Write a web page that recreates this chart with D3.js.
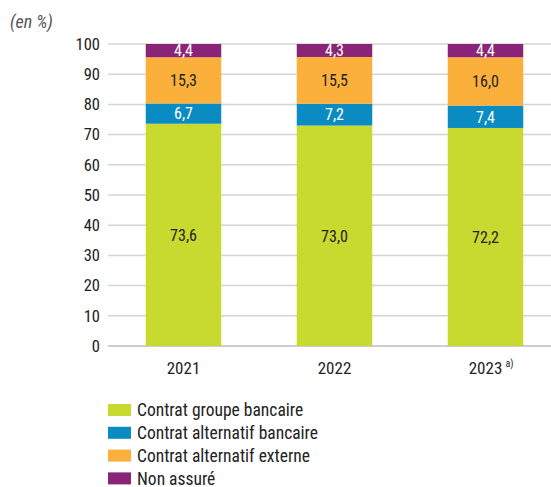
<!DOCTYPE html>
<html>
<head>
<meta charset="utf-8">
<script src="https://cdn.jsdelivr.net/npm/d3@7"></script>
<style>
  body { margin: 0; background: #fff; }
  svg text { font-family: "Liberation Sans Narrow", "Roboto Condensed", Roboto, sans-serif; }
</style>
</head>
<body>
<svg id="chart" width="551" height="487"></svg>
<script>
const years = ["2021", "2022", "2023"];
const yearNotes = ["", "", "a)"];
const seriesNames = ["Contrat groupe bancaire", "Contrat alternatif bancaire", "Contrat alternatif externe", "Non assuré"];
const groupeBancaire = [73.6, 73.0, 72.2];
const alternatifBancaire = [6.7, 7.2, 7.4];
const alternatifExterne = [15.3, 15.5, 16.0];
const nonAssure = [4.4, 4.3, 4.4];
const yTicks = [0, 10, 20, 30, 40, 50, 60, 70, 80, 90, 100];
const colors = ["#c8d930", "#0a8bc1", "#fbb03b", "#8a2476"];
const labelColors = ["#222", "#fff", "#222", "#fff"];

const seriesValues = [groupeBancaire, alternatifBancaire, alternatifExterne, nonAssure];
const rows = years.map((y, i) => {
  const r = { year: y };
  seriesNames.forEach((s, k) => r[s] = seriesValues[k][i]);
  return r;
});
const stacked = d3.stack().keys(seriesNames)(rows);

const svg = d3.select("#chart");
const x = d3.scaleBand().domain(years).range([108, 561]).paddingInner(0.5).paddingOuter(0.25);
const y = d3.scaleLinear().domain([0, 100]).range([346, 44]);

// gridlines
svg.append("g").selectAll("line").data(yTicks).join("line")
  .attr("x1", 108).attr("x2", 551)
  .attr("y1", d => y(d)).attr("y2", d => y(d))
  .attr("stroke", d => d === 0 ? "#bdbdbd" : "#d4d4d4")
  .attr("stroke-width", 1.5);

// y axis labels
const yAxis = svg.append("g").attr("transform", "translate(108,0)")
  .call(d3.axisLeft(y).tickValues(yTicks).tickSize(0).tickPadding(8));
yAxis.select(".domain").remove();
yAxis.selectAll("text").attr("font-size", 16.5).attr("fill", "#222")
  .style("font-family", '"Liberation Sans Narrow", "Roboto Condensed", Roboto, sans-serif');

// stacked bars
const layers = svg.append("g").selectAll("g").data(stacked).join("g")
  .attr("fill", (d, i) => colors[i]);
layers.selectAll("rect").data(d => d).join("rect")
  .attr("x", d => x(d.data.year))
  .attr("width", x.bandwidth())
  .attr("y", d => y(d[1]))
  .attr("height", d => y(d[0]) - y(d[1]));

// value labels
svg.append("g").selectAll("g").data(stacked).join("g")
  .each(function(layer, k) {
    d3.select(this).selectAll("text").data(layer).join("text")
      .attr("x", d => x(d.data.year) + x.bandwidth() / 2)
      .attr("y", d => (y(d[0]) + y(d[1])) / 2)
      .attr("dy", "0.36em")
      .attr("text-anchor", "middle")
      .attr("font-size", 16)
      .attr("fill", labelColors[k])
      .text(d => (d[1] - d[0]).toFixed(1).replace(".", ","));
  });

// x axis labels
svg.append("g").selectAll("text").data(years).join("text")
  .attr("x", d => x(d) + x.bandwidth() / 2)
  .attr("y", 374)
  .attr("text-anchor", "middle")
  .attr("font-size", 17)
  .attr("fill", "#222")
  .text(d => d);
svg.append("g").selectAll("text").data(years.map((d, i) => [d, yearNotes[i]]).filter(d => d[1])).join("text")
  .attr("x", d => x(d[0]) + x.bandwidth() / 2 + 20)
  .attr("y", 367)
  .attr("font-size", 10)
  .attr("fill", "#222")
  .text(d => d[1]);

// unit
svg.append("text").attr("x", 10).attr("y", 28)
  .attr("font-size", 18).attr("font-style", "italic").attr("fill", "#555")
  .text("(en %)");

// legend
const legend = svg.append("g").selectAll("g").data(seriesNames).join("g")
  .attr("transform", (d, i) => `translate(108,${404 + i * 22.8})`);
legend.append("rect").attr("width", 23).attr("height", 12).attr("fill", (d, i) => colors[i]);
legend.append("text").attr("x", 29).attr("y", 6).attr("dy", "0.35em")
  .attr("font-size", 17.5).attr("fill", "#222").text(d => d);
</script>
</body>
</html>
